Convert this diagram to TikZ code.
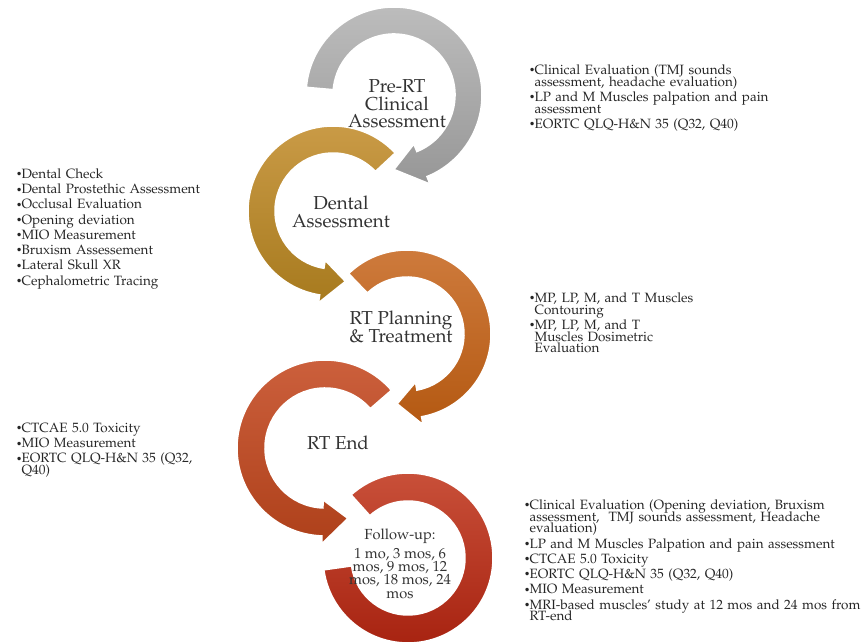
\documentclass[tikz,border=0pt]{standalone}
\usepackage[T1]{fontenc}
\usepackage{mathpazo}
\usepackage{graphicx}
\usetikzlibrary{calc}
\definecolor{greyT}{HTML}{BDBDBD}
\definecolor{greyB}{HTML}{979797}
\definecolor{goldT}{HTML}{CB9C48}
\definecolor{goldB}{HTML}{A77A1E}
\definecolor{orngT}{HTML}{CF7C3E}
\definecolor{orngB}{HTML}{B45912}
\definecolor{rustT}{HTML}{CD613E}
\definecolor{rustB}{HTML}{AE401A}
\definecolor{deepT}{HTML}{CA523B}
\definecolor{deepB}{HTML}{A6210F}
\newcommand\tightlines{\setlength\lineskiplimit{-8pt}}
% one bullet line, later lines hang under the text
\newcommand\itm[1]{\par\hangindent=1.6mm\hangafter=1\noindent
  \makebox[1.6mm][l]{\raisebox{.1ex}{\scalebox{.75}{\textbullet}}}#1}
% curved band with a head: center, start, head base, tip, inner r, outer r, barb, style
\newcommand\bendarrow[8]{%
  \path[#8] ($(#1)+(#2:#6)$) arc[start angle=#2,end angle=#3,radius=#6]
    -- ($(#1)+(#3:{#6+#7})$) -- ($(#1)+(#4:{(#5+#6)/2})$) -- ($(#1)+(#3:{#5-#7})$)
    -- ($(#1)+(#3:#5)$) arc[start angle=#3,end angle=#2,radius=#5] -- cycle;}

\begin{document}
\begin{tikzpicture}[
  x=0.03cm, y=0.03cm,
  band/.style={draw=white,line width=1.3pt},
  greyarc/.style={band,top color=greyT,bottom color=greyB},
  goldarc/.style={band,top color=goldT,bottom color=goldB},
  orngarc/.style={band,top color=orngT,bottom color=orngB},
  rustarc/.style={band,top color=rustT,bottom color=rustB},
  deeparc/.style={band,top color=deepT,bottom color=deepB},
  lbl/.style={align=center,inner sep=0pt,text=black!80,
              font=\fontsize{16}{15}\selectfont\tightlines},
  lst/.style={anchor=north west,text width=13cm,inner sep=0pt,text=black!85,
              font=\fontsize{11.5}{10}\selectfont\tightlines\setlength\parskip{3pt}}
]
\useasboundingbox (0,0) rectangle (865,644);
% circle centres
\coordinate (c1) at (394,549);
\coordinate (c2) at (333,433);
\coordinate (c3) at (407,310);
\coordinate (c4) at (325,196);
\coordinate (c5) at (408,86);

% bands, last step first so each head lies on the next band
\path[deeparc] ($(c5)+(132:85)$) arc[start angle=132,end angle=-172,radius=85]
  -- ($(c5)+(-172:57)$) arc[start angle=-172,end angle=132,radius=57] -- cycle;
\bendarrow{c4}{41}{268}{288}{60}{88}{8}{rustarc}
\bendarrow{c3}{134}{-80}{-98}{57}{84}{8}{orngarc}
\bendarrow{c2}{43}{261}{280}{58}{85}{8}{goldarc}
\bendarrow{c1}{175}{-68}{-90}{61}{88}{8}{greyarc}

% step names
\node[lbl] (pre) at (397,540) {Pre-RT\\Clinical\\Assessment};
\node[lbl] (dental) at (341,432) {Dental\\Assessment};
\node[lbl] (plan) at (401,317) {RT Planning\\\& Treatment};
\node[lbl] (rtend) at (338,201) {RT End};
\node[lbl,font=\fontsize{12.5}{11.5}\selectfont\tightlines] (follow) at (400,80)
  {Follow-up:\\[4pt]1 mo, 3 mos, 6\\mos, 9 mos, 12\\mos, 18 mos, 24\\mos};

% lists
\node[lst] (preList) at (529,585) {%
  \itm{Clinical Evaluation (TMJ sounds\newline assessment, headache evaluation)}
  \itm{LP and M Muscles palpation and pain\newline assessment}
  \itm{EORTC QLQ-H\&N 35 (Q32, Q40)}\par};
\node[lst] (dentalList) at (16,481) {%
  \itm{Dental Check}
  \itm{Dental Prostethic Assessment}
  \itm{Occlusal Evaluation}
  \itm{Opening deviation}
  \itm{MIO Measurement}
  \itm{Bruxism Assessement}
  \itm{Lateral Skull XR}
  \itm{Cephalometric Tracing}\par};
\node[lst] (planList) at (529,357) {%
  \itm{MP, LP, M, and T Muscles\newline Contouring}
  \itm{MP, LP, M, and T\newline Muscles Dosimetric\newline Evaluation}\par};
\node[lst] (endList) at (16,227) {%
  \itm{CTCAE 5.0 Toxicity}
  \itm{MIO Measurement}
  \itm{EORTC QLQ-H\&N 35 (Q32,\newline Q40)}\par};
\node[lst] (followList) at (524,150) {%
  \itm{Clinical Evaluation (Opening deviation, Bruxism\newline assessment,\ \ TMJ sounds assessment, Headache\newline evaluation)}
  \itm{LP and M Muscles Palpation and pain assessment}
  \itm{CTCAE 5.0 Toxicity}
  \itm{EORTC QLQ-H\&N 35 (Q32, Q40)}
  \itm{MIO Measurement}
  \itm{MRI-based muscles' study at 12 mos and 24 mos from\newline RT-end}\par};
\end{tikzpicture}
\end{document}
